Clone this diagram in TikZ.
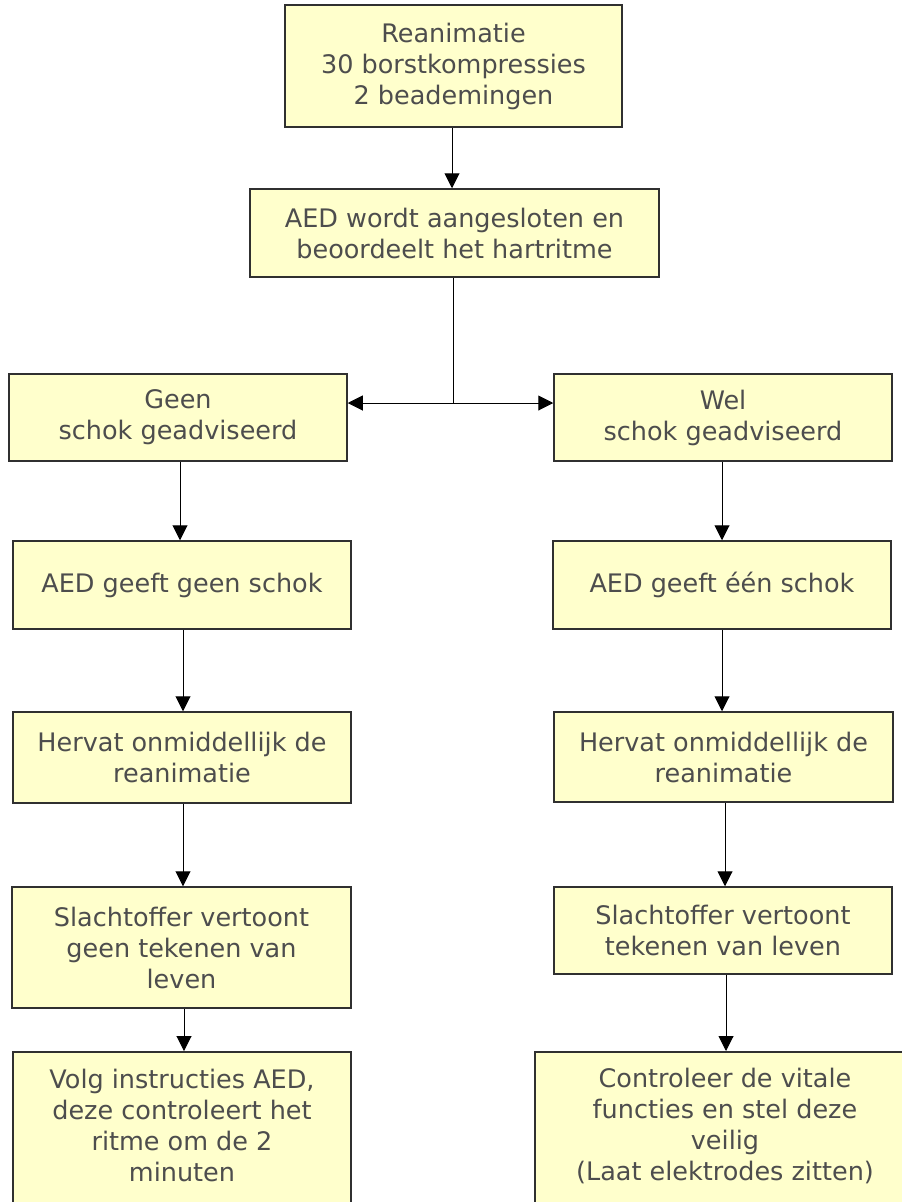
\documentclass[tikz,border=0pt]{standalone}
\usepackage{fontspec}
\setmainfont{DejaVu Sans}
\usetikzlibrary{arrows.meta,calc}
\definecolor{boxfill}{HTML}{FFFFCC}
\definecolor{txt}{HTML}{4D4D4D}
\definecolor{edgecol}{HTML}{303030}
\begin{document}
\begin{tikzpicture}[x=1pt,y=-1pt,
  box/.style={draw=edgecol, line width=1.5pt, fill=boxfill, text=txt, align=center,
    inner sep=0pt, font=\fontsize{25.5}{31}\selectfont},
  plain/.style={text=txt, align=center, inner sep=0pt, font=\fontsize{25.5}{31}\selectfont},
  arr/.style={-{Triangle[length=15pt,width=15pt]}, line width=1pt, black},
  conn/.style={line width=1pt, black}]
\useasboundingbox (0,0) rectangle (902,1202);

% top
\node[box, minimum width=337pt, minimum height=122pt] (top) at (453.5,66)
  {Reanimatie\\30 borstkompressies\\2 beademingen};
\node[box, minimum width=409pt, minimum height=88pt] (aed) at (454.5,233)
  {AED wordt aangesloten en\\beoordeelt het hartritme};

% left column
\node[box, minimum width=338pt, minimum height=87pt] (geen) at (178,417.5)
  {Geen\\schok geadviseerd};
\node[box, minimum width=338pt, minimum height=88pt] (lg) at (182,585)
  {AED geeft geen schok};
\node[box, minimum width=338pt, minimum height=91pt] (lh) at (182,757.5)
  {Hervat onmiddellijk de\\reanimatie};
\node[box, minimum width=339pt, minimum height=121pt] (ls) at (181.5,947.5)
  {Slachtoffer vertoont\\geen tekenen van\\leven};
\node[box, minimum width=338pt, minimum height=170pt, anchor=north] (lv) at (182,1051) {};
\node[plain] (lvt) at (182,1125.5)
  {Volg instructies AED,\\deze controleert het\\ritme om de 2\\minuten};

% right column
\node[box, minimum width=338pt, minimum height=87pt] (wel) at (723,417.5)
  {Wel\\schok geadviseerd};
\node[box, minimum width=338pt, minimum height=88pt] (rg) at (722,585)
  {AED geeft één schok};
\node[box, minimum width=339pt, minimum height=90pt] (rh) at (723.5,757)
  {Hervat onmiddellijk de\\reanimatie};
\node[box, minimum width=338pt, minimum height=87pt] (rs) at (723,930.5)
  {Slachtoffer vertoont\\tekenen van leven};
\node[box, minimum width=377pt, minimum height=170pt, anchor=north] (rv) at (723.5,1051) {};
\node[plain] (rvt) at (725,1125.5)
  {Controleer de vitale\\functies en stel deze\\veilig\\(Laat elektrodes zitten)};

% connectors
\draw[arr] (top.south -| 452,0) -- (aed.north -| 452,0);
\coordinate (j) at (453,403);
\draw[conn] (aed.south -| j) -- (j);
\draw[arr] (j) -- (j -| geen.east);
\draw[arr] (j) -- (j -| wel.west);

\draw[arr] (geen.south -| 180,0) -- (lg.north -| 180,0);
\draw[arr] (lg.south -| 183,0) -- (lh.north -| 183,0);
\draw[arr] (lh.south -| 183,0) -- (ls.north -| 183,0);
\draw[arr] (ls.south -| 184,0) -- (lv.north -| 184,0);

\draw[arr] (wel.south -| 722,0) -- (rg.north -| 722,0);
\draw[arr] (rg.south -| 722,0) -- (rh.north -| 722,0);
\draw[arr] (rh.south -| 725,0) -- (rs.north -| 725,0);
\draw[arr] (rs.south -| 726,0) -- (rv.north -| 726,0);
\end{tikzpicture}
\end{document}
